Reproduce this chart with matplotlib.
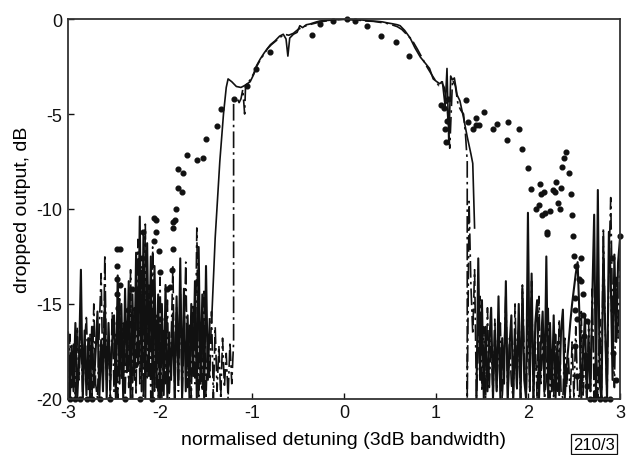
import numpy as np
import matplotlib
matplotlib.use("Agg")
import matplotlib.pyplot as plt

plt.rcParams['font.family'] = ['Liberation Sans', 'DejaVu Sans']
plt.rcParams['axes.unicode_minus'] = False

# ---- solid trace: central passband ----
solid_x = [-1.44, -1.40, -1.35, -1.31, -1.28, -1.26, -1.22, -1.17, -1.12, -1.08,
           -1.02, -0.98, -0.95, -0.91, -0.87, -0.84, -0.80, -0.75, -0.70, -0.66,
           -0.63, -0.61, -0.59, -0.55, -0.51, -0.48, -0.45, -0.41, -0.37, -0.30,
           -0.26, -0.20, -0.12, -0.05, 0.00, 0.06, 0.12, 0.20, 0.28, 0.36,
           0.42, 0.47, 0.53, 0.58, 0.61, 0.66, 0.72, 0.77, 0.83, 0.88,
           0.93, 0.97, 1.01, 1.04, 1.07, 1.10, 1.12, 1.14, 1.16, 1.18,
           1.20, 1.23, 1.26, 1.30, 1.34, 1.38, 1.40, 1.42]
solid_y = [-16.0, -11.5, -7.5, -5.0, -3.6, -3.15, -3.3, -3.55, -3.6, -3.5,
           -3.3, -2.9, -2.45, -2.1, -1.8, -1.6, -1.35, -1.15, -0.9, -0.8,
           -1.05, -1.95, -1.0, -0.8, -0.7, -0.35, -0.45, -0.3, -0.26, -0.15,
           -0.1, -0.08, -0.05, -0.02, 0.0, -0.02, -0.05, -0.05, -0.1, -0.12,
           -0.15, -0.2, -0.25, -0.3, -0.35, -0.6, -1.0, -1.5, -2.0, -2.3,
           -2.6, -3.15, -3.3, -3.4, -3.3, -4.6, -2.6, -6.6, -3.0, -3.2,
           -3.1, -4.0, -4.3, -5.2, -6.2, -7.1, -7.6, -11.0]

# ---- dash-dot trace: central passband ----
dash_x = [-1.20, -1.20, -1.17, -1.14, -1.12, -1.10, -1.08, -1.07, -1.05, -1.02,
          -0.98, -0.95, -0.91, -0.87, -0.83, -0.79, -0.74, -0.69, -0.65, -0.60,
          -0.55, -0.50, -0.44, -0.38, -0.30, -0.22, -0.14, -0.06, 0.00, 0.08,
          0.16, 0.24, 0.32, 0.40, 0.46, 0.52, 0.58, 0.63, 0.68, 0.74,
          0.80, 0.85, 0.90, 0.95, 0.99, 1.03, 1.06, 1.09, 1.12, 1.15,
          1.18, 1.21, 1.24, 1.27, 1.30, 1.32, 1.34, 1.34]
dash_y = [-17.0, -4.3, -4.1, -4.4, -4.2, -3.7, -5.0, -3.5, -3.4, -3.2,
          -2.85, -2.5, -2.15, -1.85, -1.55, -1.35, -1.15, -0.95, -0.8, -0.85,
          -0.75, -0.55, -0.4, -0.3, -0.2, -0.12, -0.06, -0.03, -0.02, -0.03,
          -0.06, -0.1, -0.12, -0.18, -0.22, -0.3, -0.4, -0.55, -0.8, -1.1,
          -1.6, -2.05, -2.5, -2.9, -3.2, -3.5, -3.3, -3.6, -4.5, -6.8,
          -3.2, -3.5, -4.5, -4.8, -5.0, -6.0, -7.5, -20.0]

# ---- noise floors (detuning grid 0.02) ----
solid_left_noise = [
    -16.5, -20.0, -17.2, -19.6, -16.0, -20.0, -17.8, -13.2, -20.0, -16.4,   # -3.00 .. -2.82
    -19.8, -16.8, -20.0, -16.2, -19.4, -17.5, -15.4, -20.0, -16.9, -19.6,   # -2.80 .. -2.62
    -14.8, -20.0, -16.0, -19.0, -17.0, -15.6, -20.0, -13.5, -19.2, -15.0,   # -2.60 .. -2.42
    -20.0, -14.2, -18.6, -13.8, -20.0, -14.5, -19.0, -12.3, -18.2, -10.4,   # -2.40 .. -2.22
    -19.6, -11.2, -20.0, -11.8, -18.8, -12.5, -20.0, -13.0, -19.4, -14.5,   # -2.20 .. -2.02
    -20.0, -15.0, -19.8, -14.0, -20.0, -16.5, -19.0, -15.5, -20.0, -14.6,   # -2.00 .. -1.82
    -19.0, -12.6, -20.0, -14.2, -19.6, -15.6, -20.0, -15.0, -18.8, -13.8,   # -1.80 .. -1.62
    -20.0, -12.0, -19.2, -14.5, -20.0, -13.0, -19.0, -15.8]                 # -1.60 .. -1.46
dash_left_noise = [
    -20.0, -16.6, -19.4, -17.0, -20.0, -16.2, -19.0, -16.4, -20.0, -17.0,   # -3.00 .. -2.82
    -15.6, -19.5, -16.6, -20.0, -15.0, -19.2, -20.0, -16.2, -13.4, -19.6,   # -2.80 .. -2.62
    -12.4, -19.0, -17.0, -20.0, -15.4, -19.6, -16.6, -20.0, -14.6, -19.0,   # -2.60 .. -2.42
    -16.0, -20.0, -15.8, -19.4, -13.2, -20.0, -15.2, -19.8, -11.6, -19.2,   # -2.40 .. -2.22
    -13.0, -20.0, -10.8, -19.0, -14.0, -20.0, -12.0, -19.6, -15.6, -20.0,   # -2.20 .. -2.02
    -13.6, -20.0, -16.4, -19.2, -14.8, -20.0, -17.2, -13.0, -20.0, -15.2,   # -2.00 .. -1.82
    -19.6, -14.0, -20.0, -16.8, -12.8, -19.4, -16.0, -20.0, -15.0, -19.2,   # -1.80 .. -1.62
    -11.0, -20.0, -16.0, -19.6, -14.2, -20.0, -16.6, -19.0, -15.4, -20.0,   # -1.60 .. -1.42
    -16.2, -19.6, -17.2, -20.0, -16.8, -19.4, -17.6, -20.0, -17.0, -19.2,   # -1.40 .. -1.22
    -17.0]                                                                  # -1.20
solid_right_noise = [
    -20.0, -12.6, -19.0, -14.8, -20.0, -16.2, -19.6, -17.0, -15.2, -20.0,   # 1.44 .. 1.62
    -16.4, -19.6, -14.6, -20.0, -16.8, -19.2, -13.8, -20.0, -17.2, -15.6,   # 1.64 .. 1.82
    -20.0, -16.6, -19.4, -15.0, -20.0, -14.2, -19.0, -20.0, -10.2, -19.4,   # 1.84 .. 2.02
    -13.4, -20.0, -16.0, -14.8, -20.0, -17.2, -15.4, -19.6, -12.5, -20.0,   # 2.04 .. 2.22
    -16.0, -19.6, -15.6, -20.0, -17.0, -19.8, -16.4, -15.3, -20.0, -18.3,   # 2.24 .. 2.42
    -17.2, -16.0, -15.0, -14.2, -13.4, -12.8, -15.6, -20.0, -17.6, -15.6,   # 2.44 .. 2.62
    -20.0, -16.8, -19.6, -14.6, -10.3, -20.0, -9.0, -19.2, -20.0, -12.0,    # 2.64 .. 2.82
    -16.4, -20.0, -11.2, -13.6, -19.0, -12.4, -17.0, -12.8, -11.6]          # 2.84 .. 3.00
dash_right_noise = [
    -9.6, -14.0, -16.6, -13.2, -20.0, -17.4, -14.6, -19.6, -16.2, -20.0,    # 1.36 .. 1.54
    -15.2, -19.4, -16.8, -20.0, -15.8, -19.6, -17.4, -16.0, -20.0, -18.0,   # 1.56 .. 1.74
    -14.4, -20.0, -16.8, -19.2, -20.0, -15.0, -19.6, -16.4, -20.0, -14.0,   # 1.76 .. 1.94
    -17.6, -20.0, -15.8, -19.6, -13.8, -20.0, -17.0, -20.0, -14.6, -19.2,   # 1.96 .. 2.14
    -16.6, -20.0, -19.0, -15.2, -20.0, -17.4, -20.0, -16.6, -19.6, -15.8,   # 2.16 .. 2.34
    -19.6, -20.0, -16.8, -19.4, -17.8, -20.0, -17.0, -20.0, -16.2, -19.6,   # 2.36 .. 2.54
    -20.0, -15.4, -19.8, -17.6, -20.0, -16.0, -19.6, -14.2, -20.0, -17.0,   # 2.56 .. 2.74
    -20.0, -15.8, -19.6, -11.0, -16.4, -20.0, -13.0, -9.4, -15.6, -19.4,    # 2.76 .. 2.94
    -13.6, -16.8, -12.6]                                                    # 2.96 .. 3.00

# ---- dotted (third) measurement ----
dot_x = [-2.98, -2.92, -2.87, -2.79, -2.74, -2.65, -2.54, -2.38, -2.22, -2.09,
         -2.87, -2.62, -2.47, -2.47, -2.47, -2.47, -2.46, -2.46, -2.45, -2.44,
         -2.43, -2.43, -2.40, -2.36, -2.35, -2.33, -2.30, -2.27, -2.25, -2.24,
         -2.24, -2.22, -2.20, -2.18, -2.16, -2.13, -2.11, -2.07, -2.07, -2.04,
         -2.04, -2.01, -2.00, -2.00, -1.92, -1.89, -1.87, -1.86, -1.86, -1.86,
         -1.84, -1.83, -1.80, -1.80, -1.76, -1.75, -1.71, -1.60, -1.53, -1.50,
         -1.38, -1.34, -1.20, -1.05, -0.96, -0.80, -0.35, -0.26, -0.12, 0.03,
         0.12, 0.25, 0.40, 0.57, 0.71, 1.06, 1.09, 1.10, 1.11, 1.12,
         1.13, 1.33, 1.35, 1.40, 1.43, 1.44, 1.47, 1.52, 1.62, 1.66,
         1.77, 1.78, 1.90, 1.94, 2.00, 2.03, 2.09, 2.12, 2.13, 2.14,
         2.15, 2.17, 2.19, 2.21, 2.21, 2.24, 2.27, 2.29, 2.30, 2.33,
         2.35, 2.36, 2.37, 2.39, 2.41, 2.45, 2.47, 2.48, 2.49, 2.50,
         2.51, 2.51, 2.51, 2.52, 2.53, 2.53, 2.55, 2.58, 2.58, 2.60,
         2.60, 2.61, 2.62, 2.64, 2.64, 2.64, 2.67, 2.72, 2.78, 2.84,
         2.89, 2.91, 2.93, 2.93, 2.94, 2.96, 3.00]
dot_y = [-20.0, -20.0, -20.0, -20.0, -20.0, -20.0, -20.0, -20.0, -20.0, -20.0,
         -17.5, -17.7, -12.1, -13.0, -13.7, -14.5, -15.2, -16.0, -17.0, -18.2,
         -12.1, -14.0, -17.7, -16.1, -15.3, -17.2, -14.2, -18.2, -17.5, -13.2,
         -15.3, -16.5, -12.6, -11.2, -15.8, -14.6, -15.3, -11.7, -10.5, -10.6,
         -11.2, -12.2, -13.3, -15.8, -14.2, -14.1, -13.2, -11.0, -12.1, -10.7,
         -10.6, -10.0, -8.9, -7.9, -9.1, -8.1, -7.15, -7.4, -7.3, -6.3,
         -5.65, -4.74, -4.2, -3.55, -2.63, -1.73, -0.84, -0.25, -0.1, 0.0,
         -0.1, -0.35, -0.9, -1.2, -1.93, -4.5, -4.7, -5.8, -6.45, -5.35,
         -4.2, -4.26, -5.4, -5.8, -5.6, -5.2, -5.6, -4.9, -5.8, -5.5,
         -6.37, -5.4, -5.8, -6.84, -7.85, -8.95, -10.0, -9.8, -8.7, -9.2,
         -10.3, -9.1, -10.2, -11.2, -11.3, -10.1, -9.0, -9.1, -8.6, -9.7,
         -10.0, -8.9, -7.8, -7.3, -7.0, -8.1, -9.2, -10.3, -11.4, -12.5,
         -14.7, -15.3, -17.2, -13.0, -15.8, -18.8, -13.7, -12.6, -13.8, -14.5,
         -15.6, -16.7, -17.7, -15.9, -18.3, -19.3, -20.0, -20.0, -20.0, -20.0,
         -20.0, -12.6, -15.3, -17.6, -14.7, -19.0, -11.4]


def grid(start, n):
    return np.round(start + 0.02 * np.arange(n), 2)


fig = plt.figure(figsize=(6.3, 4.56), dpi=100)
ax = fig.add_axes([0.108, 0.123, 0.876, 0.833])

lw = 1.2
col = '#111111'
# solid trace
ax.plot(grid(-3.0, len(solid_left_noise)), solid_left_noise, color=col, lw=1.5)
ax.plot(solid_x, solid_y, color=col, lw=lw)
ax.plot(grid(1.44, len(solid_right_noise)), solid_right_noise, color=col, lw=1.5)
# dash-dot trace
dd = dict(color=col, lw=lw, linestyle=(0, (10, 2.5, 1.5, 2.5)))
ax.plot(np.concatenate([grid(-3.0, len(dash_left_noise)), dash_x,
                        grid(1.36, len(dash_right_noise))]),
        dash_left_noise + dash_y + dash_right_noise, **dd)
# dots
ax.plot(dot_x, dot_y, linestyle='none', marker='o', ms=3.4, color=col, clip_on=False)

ax.set_xlim(-3, 3)
ax.set_ylim(-20, 0)
ax.set_xticks([-3, -2, -1, 0, 1, 2, 3])
ax.set_yticks([-20, -15, -10, -5, 0])
ax.tick_params(direction='in', length=4, width=1, labelsize=13, colors='#111111', pad=4)
for s in ax.spines.values():
    s.set_linewidth(1.3)
    s.set_color('#333333')

ax.set_xlabel('normalised detuning (3dB bandwidth)', fontsize=14, labelpad=7)
ax.set_ylabel('dropped output, dB', fontsize=14, labelpad=4)
fig.text(0.943, 0.024, '210/3', fontsize=12, ha='center', va='center',
         bbox=dict(boxstyle='square,pad=0.15', fc='white', ec='#111111', lw=0.9))

fig.savefig('out.png', dpi=100)
